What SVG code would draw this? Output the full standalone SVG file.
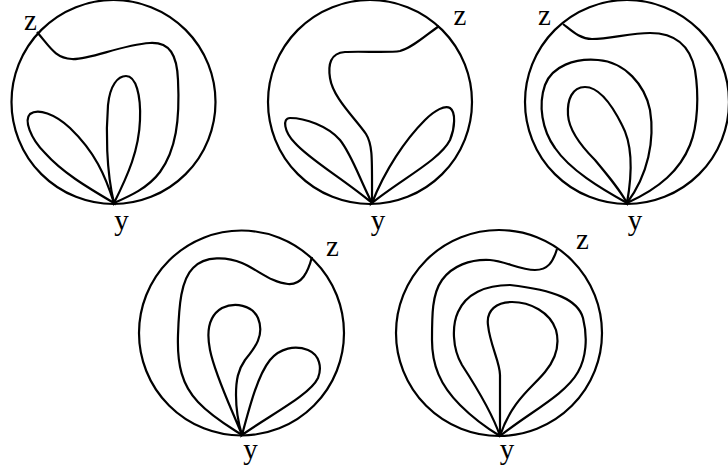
<svg xmlns="http://www.w3.org/2000/svg" width="728" height="473" viewBox="0 0 728 473">
<style>
.c{fill:none;stroke:#000;stroke-width:2.2}
.t{font-family:"Liberation Serif","Times New Roman",serif;font-size:29px;fill:#000;text-anchor:middle}
</style>
<rect width="728" height="473" fill="#fff"/>
<g id="d1">
<circle class="c" cx="113.5" cy="102" r="102"/>
<path class="c" d="M37,32 C50,47 55,58 72,59 C90,60 120,45 150,43 C170,42 177,55 178,80 C180,120 176,150 160,172 C148,188 130,196 114,203"/>
<path class="c" d="M114,203 C105,175 95,152 70,128 C55,114 38,108 30,114 C24,120 30,138 45,153 C62,172 85,186 114,203 Z"/>
<path class="c" d="M114,203 C106,170 106,130 108,105 C110,85 118,76 126,76 C136,76 141,95 140,120 C139,150 128,175 114,203 Z"/>
<text class="t" x="30.5" y="30">z</text>
<text class="t" x="121.5" y="230">y</text>
</g>
<g id="d2">
<circle class="c" cx="370" cy="102" r="102"/>
<path class="c" d="M439,26 C425,36 412,48 400,51 C390,53 360,51 345,52 C330,53 328,65 330,78 C333,98 355,118 366,134 C373,145 372,160 372,203"/>
<path class="c" d="M372,203 C360,180 352,155 340,140 C328,126 305,118 290,118 C282,118 284,132 295,143 C310,160 345,180 372,203 Z"/>
<path class="c" d="M372,203 C385,170 405,140 425,120 C435,110 445,105 450,108 C456,112 455,128 450,140 C440,160 400,180 372,203 Z"/>
<text class="t" x="460" y="25">z</text>
<text class="t" x="378" y="230">y</text>
</g>
<g id="d3">
<circle class="c" cx="627" cy="102" r="102"/>
<path class="c" d="M563,24 C572,31 580,39 592,39 C610,39 630,33 650,33 C675,33 690,45 695,70 C699,95 698,125 690,145 C680,170 660,188 627,203"/>
<path class="c" d="M627,203 C648,175 655,140 650,110 C645,85 625,62 598,60 C575,58 552,66 545,85 C538,105 542,130 555,148 C570,170 600,188 627,203 Z"/>
<path class="c" d="M627,203 C632,175 633,145 622,125 C612,105 600,87 585,87 C572,87 567,100 568,115 C569,130 580,145 595,160 C610,178 620,190 627,203 Z"/>
<text class="t" x="544.5" y="25">z</text>
<text class="t" x="635" y="230">y</text>
</g>
<g id="d4">
<circle class="c" cx="241.5" cy="333" r="102.5"/>
<path class="c" d="M312,257 C308,272 302,285 288,284 C272,283 258,270 242,263 C228,257 205,255 193,268 C181,280 179,305 178,335 C177,365 182,385 198,402 C212,417 228,426 242,435"/>
<path class="c" d="M242,435 C232,410 215,375 210,350 C206,330 210,315 222,308 C235,302 252,305 258,318 C265,335 255,348 245,360 C238,370 236,380 236,395 C236,410 238,422 242,435 Z"/>
<path class="c" d="M242,435 C250,405 258,375 270,360 C280,348 295,345 308,350 C320,355 322,368 318,378 C310,395 270,415 242,435 Z"/>
<text class="t" x="332.5" y="256">z</text>
<text class="t" x="250.5" y="459">y</text>
</g>
<g id="d5">
<circle class="c" cx="499" cy="333" r="103"/>
<path class="c" d="M557,249 C553,262 548,270 535,270 C520,270 505,261 490,260 C470,259 452,266 442,280 C432,294 432,315 432,340 C432,365 440,385 460,405 C475,420 490,430 500,436"/>
<path class="c" d="M500,436 C492,412 475,385 462,365 C452,348 452,325 458,312 C466,294 485,285 510,285 C555,290 578,300 583,318 C588,338 586,358 578,372 C565,395 530,412 500,436 Z"/>
<path class="c" d="M500,436 L500,375 C500,362 490,345 488,325 C486,310 497,302 512,302 C530,302 550,312 556,330 C560,345 555,360 545,372 C532,388 512,400 500,436 Z"/>
<text class="t" x="582.5" y="249">z</text>
<text class="t" x="507" y="459">y</text>
</g>
</svg>
